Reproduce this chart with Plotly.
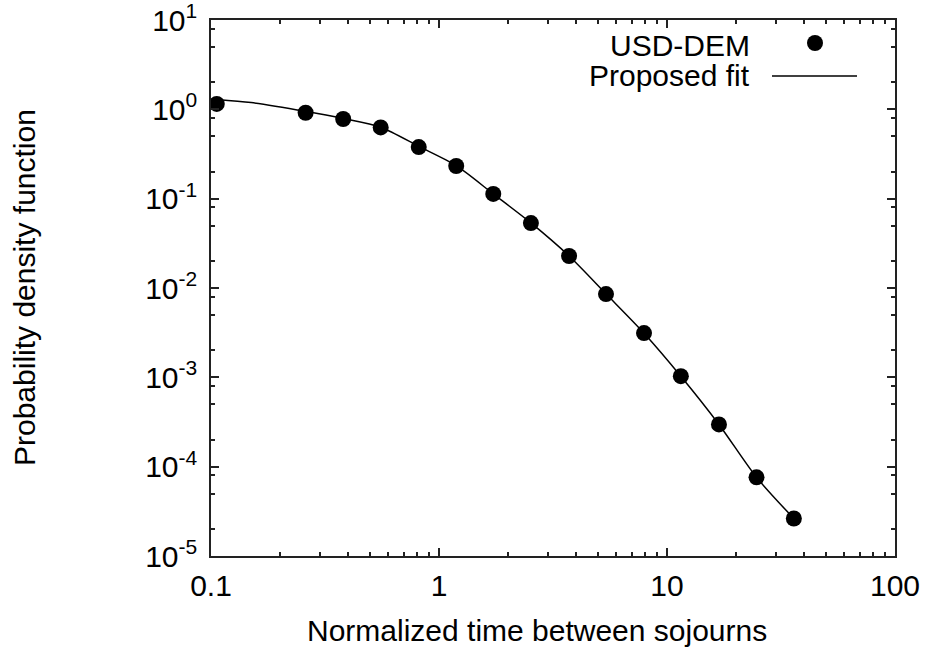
import plotly.graph_objects as go

# Data
data_x = [0.106, 0.26, 0.38, 0.555, 0.815, 1.19, 1.73, 2.53, 3.72, 5.40, 7.93, 11.5, 16.9, 24.7, 36.0]
data_y = [1.15, 0.916, 0.78, 0.628, 0.378, 0.232, 0.113, 0.0533, 0.0228, 0.00855, 0.00313, 0.00103, 0.000297, 7.6e-5, 2.63e-5]

fit_x = [0.106, 0.15, 0.26, 0.38, 0.555, 0.815, 1.19, 1.73, 2.53, 3.72, 5.40, 7.93, 11.5, 16.9, 24.7, 36.0]
fit_y = [1.29, 1.19, 0.95, 0.79, 0.63, 0.385, 0.234, 0.113, 0.0535, 0.0228, 0.0086, 0.00312, 0.00103, 0.000297, 7.6e-5, 2.63e-5]

x_tickvals = [0.1, 1, 10, 100]
x_ticktext = ["0.1", "1", "10", "100"]
y_tickvals = [1e-5, 1e-4, 1e-3, 1e-2, 1e-1, 1, 10]
y_ticktext = ["10<sup>-5</sup>", "10<sup>-4</sup>", "10<sup>-3</sup>", "10<sup>-2</sup>",
              "10<sup>-1</sup>", "10<sup>0</sup>", "10<sup>1</sup>"]
x_minor = [m * 10 ** e for e in (-1, 0, 1) for m in range(2, 10)]
y_minor = [m * 10 ** e for e in range(-5, 1) for m in (2, 5, 8)]

series_names = ["USD-DEM", "Proposed fit"]

FONT = "Liberation Sans, Arial, sans-serif"
FS = 30
AX = "#222222"

fig = go.Figure()
fig.add_trace(go.Scatter(x=fit_x, y=fit_y, mode="lines", line=dict(color="black", width=1.5, shape="spline", smoothing=0.8),
                         name=series_names[1], showlegend=False))
fig.add_trace(go.Scatter(x=data_x, y=data_y, mode="markers", marker=dict(color="black", size=16),
                         name=series_names[0], showlegend=False))

axis_common = dict(showline=True, linecolor=AX, linewidth=1.5, mirror="allticks", ticks="inside",
                   ticklen=8, tickwidth=1.5, tickcolor=AX, showgrid=False, zeroline=False,
                   ticklabeloverflow="allow", automargin=False,
                   tickfont=dict(family=FONT, size=FS, color="black"))

fig.update_xaxes(type="log", range=[-1, 2], tickmode="array", tickvals=x_tickvals, ticktext=x_ticktext,
                 minor=dict(tickmode="array", tickvals=x_minor, ticks="inside", ticklen=4, tickwidth=1.5, tickcolor=AX),
                 ticklabelstandoff=2, **axis_common)
fig.update_yaxes(type="log", range=[-5, 1], tickmode="array", tickvals=y_tickvals, ticktext=y_ticktext,
                 minor=dict(tickmode="array", tickvals=y_minor, ticks="inside", ticklen=4, tickwidth=1.5, tickcolor=AX),
                 ticklabelstandoff=6, **axis_common)

W, H = 925, 657
L, R, T, B = 211, 895, 20, 556   # plot area in page pixels
def px(x): return (x - L) / (R - L)
def py(y): return (B - y) / (B - T)

annotations = [
    dict(text="Normalized time between sojourns", x=px(537), y=py(630), xref="paper", yref="paper",
         showarrow=False, xanchor="center", yanchor="middle", font=dict(family=FONT, size=FS, color="black")),
    dict(text="Probability density function", x=px(24), y=py(288), xref="paper", yref="paper", textangle=-90,
         showarrow=False, xanchor="center", yanchor="middle", font=dict(family=FONT, size=FS, color="black")),
    dict(text=series_names[0], x=px(752), y=py(45), xref="paper", yref="paper",
         showarrow=False, xanchor="right", yanchor="middle", font=dict(family=FONT, size=FS, color="black")),
    dict(text=series_names[1], x=px(752), y=py(76), xref="paper", yref="paper",
         showarrow=False, xanchor="right", yanchor="middle", font=dict(family=FONT, size=FS, color="black")),
]
shapes = [
    dict(type="circle", xref="paper", yref="paper", x0=px(815 - 8), x1=px(815 + 8), y0=py(43 + 8), y1=py(43 - 8),
         fillcolor="black", line=dict(color="black", width=0)),
    dict(type="line", xref="paper", yref="paper", x0=px(772), x1=px(857), y0=py(76), y1=py(76),
         line=dict(color="black", width=1.5)),
]

fig.update_layout(width=W, height=H,
                  margin=dict(l=L, r=W - R, t=T, b=H - B),
                  plot_bgcolor="white", paper_bgcolor="white", showlegend=False,
                  annotations=annotations, shapes=shapes)

fig.write_html("out.html", config={"displayModeBar": False},
               post_script="document.body.style.margin='0';document.body.style.overflow='hidden';")
